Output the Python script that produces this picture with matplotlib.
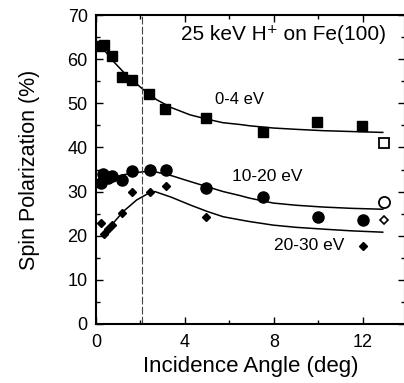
import matplotlib
matplotlib.use("Agg")
import matplotlib.pyplot as plt
from matplotlib.ticker import MultipleLocator

plt.rcParams['font.family'] = ['Liberation Sans', 'DejaVu Sans']

# 0-4 eV (squares)
ang_sq = [0.18, 0.36, 0.73, 1.15, 1.6, 2.4, 3.1, 4.94, 7.49, 9.95, 11.98]
pol_sq = [63.0, 63.3, 60.6, 56.0, 55.3, 52.1, 48.8, 46.6, 43.4, 45.7, 44.9]
# 10-20 eV (circles)
ang_ci = [0.21, 0.33, 0.55, 0.73, 1.18, 1.6, 2.43, 3.15, 4.94, 7.49, 9.98, 12.0]
pol_ci = [31.9, 34.0, 33.0, 33.6, 32.6, 34.7, 34.9, 34.8, 30.8, 28.7, 24.3, 23.6]
# 20-30 eV (diamonds)
ang_di = [0.21, 0.36, 0.55, 0.73, 1.18, 1.6, 2.43, 3.15, 4.94, 12.0]
pol_di = [22.8, 20.3, 21.5, 22.4, 25.1, 30.0, 30.0, 31.2, 24.3, 17.7]

# open symbols at the right edge
ang_open = 12.95
open_sq, open_ci, open_di = 41.1, 27.7, 23.6

# fitted curves
fit_x_sq = [0.3, 0.78, 1.4, 2.13, 2.73, 3.4, 4.22, 5.0, 5.71, 6.47, 6.92, 7.97, 9.0, 10.2, 11.5, 12.9]
fit_y_sq = [62.5, 59.5, 56.2, 53.1, 50.8, 49.0, 47.4, 46.4, 45.6, 45.2, 44.9, 44.4, 44.1, 43.8, 43.6, 43.4]
fit_x_ci = [0.18, 0.6, 1.23, 1.7, 2.13, 2.65, 3.4, 4.22, 5.0, 5.72, 6.47, 6.92, 7.97, 9.0, 10.2, 11.5, 12.9]
fit_y_ci = [31.9, 32.8, 33.8, 34.2, 34.5, 34.5, 33.6, 32.3, 31.1, 30.0, 29.1, 28.5, 27.4, 26.9, 26.5, 26.2, 26.0]
fit_x_di = [0.33, 0.8, 1.23, 1.83, 2.43, 2.65, 3.4, 4.22, 5.0, 5.72, 6.47, 6.92, 7.97, 9.0, 10.2, 11.5, 12.9]
fit_y_di = [20.6, 23.0, 25.5, 28.1, 29.8, 30.0, 28.7, 27.0, 25.5, 24.3, 23.6, 23.2, 22.4, 21.9, 21.5, 21.1, 20.8]

fig = plt.figure(figsize=(4.04, 3.83), dpi=100)
ax = fig.add_axes([96/404, 59/383, 309/404, 309/383])

ax.plot(fit_x_sq, fit_y_sq, color='black', lw=1.1)
ax.plot(fit_x_ci, fit_y_ci, color='black', lw=1.1)
ax.plot(fit_x_di, fit_y_di, color='black', lw=1.1)

ax.plot(ang_sq, pol_sq, 's', color='black', ms=7.5)
ax.plot(ang_ci, pol_ci, 'o', color='black', ms=8)
ax.plot(ang_di, pol_di, 'D', color='black', ms=4)
ax.plot([ang_open], [open_sq], 's', mfc='white', mec='black', mew=1.3, ms=7)
ax.plot([ang_open], [open_ci], 'o', mfc='white', mec='black', mew=1.3, ms=8)
ax.plot([ang_open], [open_di], 'D', mfc='white', mec='black', mew=1.2, ms=4.5)

ax.axvline(2.08, color='#444444', lw=0.8, ls=(0, (7, 2)))

ax.set_xlim(0, 13.9)
ax.set_ylim(0, 70)
ax.xaxis.set_major_locator(MultipleLocator(4))
ax.xaxis.set_minor_locator(MultipleLocator(2))
ax.yaxis.set_major_locator(MultipleLocator(10))
ax.yaxis.set_minor_locator(MultipleLocator(5))
ax.tick_params(which='both', direction='in', top=True, right=True, labelsize=13, width=1)
ax.tick_params(which='major', length=5)
ax.tick_params(which='minor', length=3)
ax.tick_params(axis='x', pad=7)
ax.tick_params(axis='y', pad=6)
for s in ax.spines.values():
    s.set_linewidth(1.5)

ax.set_xlabel('Incidence Angle (deg)', fontsize=16, labelpad=4)
ax.set_ylabel('Spin Polarization (%)', fontsize=15.5, labelpad=20)

ax.text(13.05, 65.5, '25 keV H\u207a on Fe(100)', fontsize=15, ha='right', va='center')
ax.text(6.47, 50.8, '0-4 eV', fontsize=12, ha='center', va='center')
ax.text(7.71, 33.4, '10-20 eV', fontsize=12.5, ha='center', va='center')
ax.text(9.6, 17.7, '20-30 eV', fontsize=12.5, ha='center', va='center')

fig.savefig('out.png', dpi=100)
